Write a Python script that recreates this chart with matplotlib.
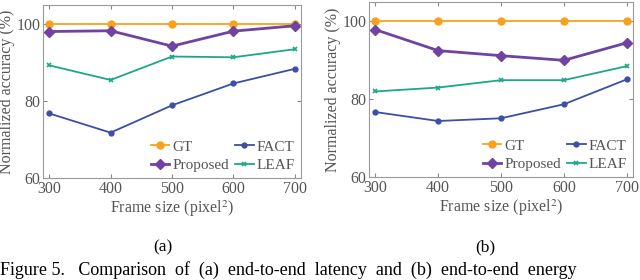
import matplotlib
matplotlib.use("Agg")
import matplotlib.pyplot as plt

plt.rcParams['font.family'] = ['Liberation Serif', 'DejaVu Serif']
plt.rcParams['mathtext.fontset'] = 'stix'

frame_sizes = [300, 400, 500, 600, 700]

# (a) latency
gt_a = [100, 100, 100, 100, 100]
proposed_a = [98.1, 98.3, 94.3, 98.2, 99.6]
fact_a = [76.8, 71.8, 78.9, 84.6, 88.4]
leaf_a = [89.3, 85.5, 91.6, 91.4, 93.5]

# (b) energy
gt_b = [100, 100, 100, 100, 100]
proposed_b = [97.9, 92.5, 91.2, 90.0, 94.5]
fact_b = [76.7, 74.4, 75.1, 78.7, 85.1]
leaf_b = [82.0, 83.0, 84.9, 84.9, 88.5]

panel_labels = ["(a)", "(b)"]
caption = "Figure 5.   Comparison  of  (a)  end-to-end  latency  and  (b)  end-to-end  energy"

c_gt = "#f9a11b"
c_prop = "#7042a2"
c_fact = "#3a4fa8"
c_leaf = "#1ba889"
grey = "#555555"

W, H = 640, 280
fig = plt.figure(figsize=(6.4, 2.8), dpi=100)


def make_axes(left, top, right, bottom):
    return fig.add_axes([left / W, 1 - bottom / H, (right - left) / W, (bottom - top) / H])


def draw(ax, gt, prop, fact, leaf):
    ax.plot(frame_sizes, gt, color=c_gt, marker='o', markersize=5, lw=1.3, label='GT')
    ax.plot(frame_sizes, prop, color=c_prop, marker='D', markersize=5, lw=2.0, label='Proposed')
    ax.plot(frame_sizes, fact, color=c_fact, marker='o', markersize=3.5, lw=1.3, label='FACT')
    ax.plot(frame_sizes, leaf, color=c_leaf, marker='x', markersize=3.5, mew=1.2, lw=1.3, label='LEAF')
    ax.set_xlim(290, 710)
    ax.set_ylim(60, 105)
    ax.set_xticks(frame_sizes)
    ax.set_yticks([60, 80, 100])
    ax.tick_params(direction='in', length=3, colors='#888888', labelcolor=grey,
                   labelsize=11.5, top=True, right=True, pad=2)
    for s in ax.spines.values():
        s.set_color('#999999')
        s.set_linewidth(0.8)
    ax.set_xlabel('Frame size (pixel$^2$)', color=grey, fontsize=11.5, labelpad=1)
    ax.set_ylabel('Normalized accuracy (%)', color=grey, fontsize=11.5, labelpad=1)
    h, l = ax.get_legend_handles_labels()
    ax.legend(h, l, ncol=2, loc='lower right', frameon=False, fontsize=11,
              handlelength=1.2, handletextpad=0.2, columnspacing=0.4,
              labelspacing=0.3, borderaxespad=0.0, labelcolor=grey)


ax1 = make_axes(43, 5, 301, 178)
draw(ax1, gt_a, proposed_a, fact_a, leaf_a)
ax2 = make_axes(369, 2, 633, 177)
draw(ax2, gt_b, proposed_b, fact_b, leaf_b)

fig.text(163 / W, 1 - 247 / H, panel_labels[0], ha='center', va='center', fontsize=12.5)
fig.text(485 / W, 1 - 247 / H, panel_labels[1], ha='center', va='center', fontsize=12.5)
fig.text(0, 1 / H, caption, ha='left', va='bottom', fontsize=13)

fig.savefig('out.png', dpi=100)
